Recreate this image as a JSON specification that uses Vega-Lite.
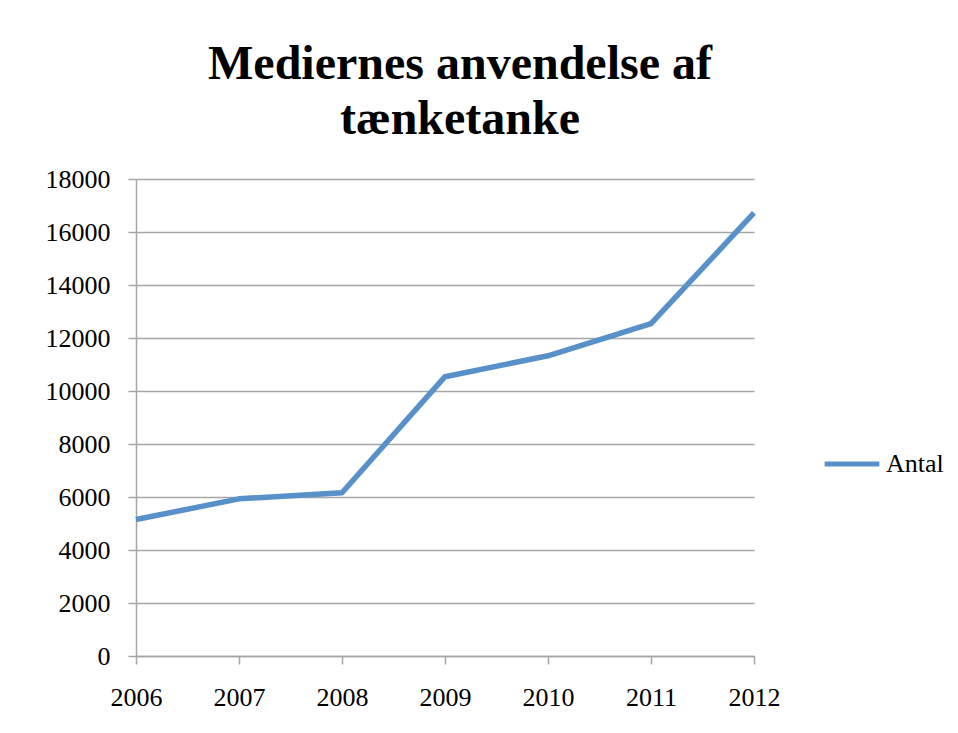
{
  "$schema": "https://vega.github.io/schema/vega-lite/v6.json",
  "autosize": {"type": "none"},
  "width": 618,
  "height": 477,
  "padding": {"left": 136, "top": 179, "right": 204, "bottom": 77},
  "background": "white",
  "title": {
    "text": ["Mediernes anvendelse af", "tænketanke"],
    "font": "Liberation Serif",
    "fontSize": 48,
    "fontWeight": "bold",
    "color": "black",
    "anchor": "middle",
    "dx": 15,
    "offset": 22,
    "lineHeight": 55
  },
  "data": {
    "values": [
      {"year": 2006, "serie": "Antal", "antal": 5150},
      {"year": 2007, "serie": "Antal", "antal": 5930},
      {"year": 2008, "serie": "Antal", "antal": 6160},
      {"year": 2009, "serie": "Antal", "antal": 10540},
      {"year": 2010, "serie": "Antal", "antal": 11330},
      {"year": 2011, "serie": "Antal", "antal": 12540},
      {"year": 2012, "serie": "Antal", "antal": 16720}
    ]
  },
  "mark": {"type": "line", "strokeWidth": 5.5, "strokeCap": "butt", "strokeJoin": "round"},
  "encoding": {
    "x": {
      "field": "year",
      "type": "quantitative",
      "scale": {"domain": [2006, 2012], "nice": false, "zero": false},
      "axis": {
        "values": [2006, 2007, 2008, 2009, 2010, 2011, 2012],
        "format": "d",
        "title": null,
        "grid": false,
        "domainColor": "#a6a6a6",
        "domainWidth": 1.5,
        "tickColor": "#a6a6a6",
        "tickWidth": 1.5,
        "tickSize": 8,
        "labelPadding": 20,
        "labelFont": "Liberation Serif",
        "labelFontSize": 26,
        "labelColor": "black",
        "labelFlush": false,
        "labelOverlap": false
      }
    },
    "y": {
      "field": "antal",
      "type": "quantitative",
      "scale": {"domain": [0, 18000], "nice": false},
      "axis": {
        "values": [0, 2000, 4000, 6000, 8000, 10000, 12000, 14000, 16000, 18000],
        "format": "d",
        "title": null,
        "grid": true,
        "gridColor": "#a6a6a6",
        "gridWidth": 1.5,
        "domainColor": "#a6a6a6",
        "domainWidth": 1.5,
        "tickColor": "#a6a6a6",
        "tickWidth": 1.5,
        "tickSize": 8,
        "labelPadding": 18,
        "labelFont": "Liberation Serif",
        "labelFontSize": 26,
        "labelColor": "black",
        "labelOverlap": false
      }
    },
    "color": {
      "field": "serie",
      "type": "nominal",
      "scale": {"range": ["#5891c9"]},
      "legend": {
        "title": null,
        "orient": "none",
        "legendX": 686,
        "legendY": 255,
        "symbolType": "stroke",
        "symbolSize": 3000,
        "symbolStrokeWidth": 5,
        "labelFont": "Liberation Serif",
        "labelFontSize": 26,
        "labelColor": "black",
        "labelOffset": 4
      }
    }
  },
  "config": {
    "view": {"stroke": null}
  }
}
